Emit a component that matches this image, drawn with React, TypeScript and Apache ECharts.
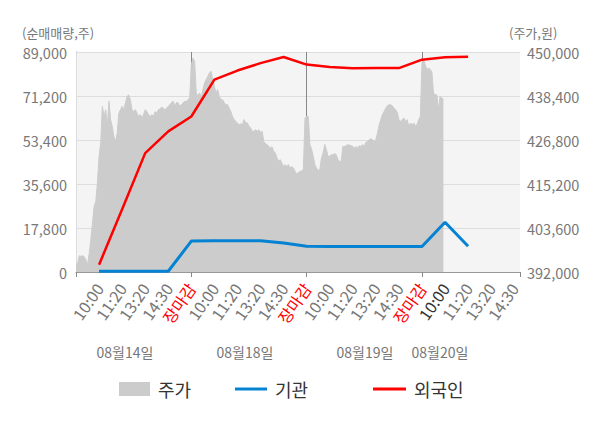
import React, { useEffect, useRef } from 'react';
import * as echarts from 'echarts';

// x tick labels (one per tick unit; 5 ticks per trading day)
const tickLabels = [
  '', '10:00', '11:20', '13:20', '14:30', '장마감',
  '10:00', '11:20', '13:20', '14:30', '장마감',
  '10:00', '11:20', '13:20', '14:30', '장마감',
  '10:00', '11:20', '13:20', '14:30',
];
const dayLabels = ['08월14일', '08월18일', '08월19일', '08월20일'];

// cumulative net buying (shares), at ticks 1..17
const foreignNet = [2950, 25400, 48100, 56900, 62900, 77800, 81500, 84500, 87000, 83900, 82900, 82400, 82500, 82500, 85900, 86900, 87100];
const institutionNet = [300, 300, 300, 300, 12500, 12650, 12650, 12650, 11700, 10400, 10300, 10300, 10300, 10300, 10300, 20100, 10400];

// intraday price (won), 14 samples per tick unit
const SAMPLES_PER_TICK = 14;
const priceDay1 = [393900, 394400, 396300, 396100, 396300, 396000, 395200, 393900, 396800, 400500, 404900, 409300, 410600, 415500, 422500, 426000, 435700, 433000, 434800, 430400, 437000, 432200, 430400, 427700, 426400, 428600, 433900, 434800, 435700, 434800, 436600, 438300, 438700, 437400, 434800, 434300, 434800, 433900, 433000, 433500, 432600, 433500, 434800, 434300, 433500, 433000, 433500, 433000, 434300, 433900, 434800, 435000, 435500, 435200, 434800, 435200, 435700, 436100, 436700, 437000, 435700, 436700, 436600, 435700, 436100, 436600, 437000, 437000, 437400, 437900];
const priceDay2 = [446600, 448400, 447500, 439200, 438300, 439200, 437900, 440100, 441800, 442700, 443600, 444500, 444900, 442700, 440900, 439200, 440100, 438300, 437400, 437400, 436600, 436100, 436100, 435200, 434300, 433000, 432200, 431700, 431300, 430800, 431100, 430800, 432200, 431300, 431300, 430400, 430000, 429100, 429100, 429500, 429100, 429500, 428800, 429100, 426400, 425800, 425600, 425100, 424700, 425000, 423800, 423400, 422100, 421200, 421600, 420700, 419800, 420300, 419800, 420300, 419400, 419800, 419400, 418500, 417800, 418300, 418500, 418700, 419000];
const priceDay3 = [432600, 433000, 433000, 425500, 424400, 422500, 420300, 419400, 418800, 419000, 422100, 423400, 425600, 424200, 422500, 422500, 422900, 422900, 423200, 422900, 421600, 421200, 421200, 425100, 425100, 425300, 425600, 425400, 425300, 425100, 424700, 425100, 424700, 425300, 425100, 425600, 425100, 426200, 426400, 426900, 427100, 426900, 426400, 426900, 428600, 430800, 432200, 433500, 434300, 435200, 435800, 436100, 436100, 435800, 435200, 434800, 434100, 432200, 431700, 432200, 432600, 431700, 432200, 430400, 431300, 430800, 431300, 430600, 430800, 432200, 433000];
const priceDay4 = [447000, 448000, 446600, 445300, 445800, 445300, 444900, 439200, 438700, 438700, 434800, 438300, 437900, 437600];

const FONT = '"Noto Sans CJK KR", "Noto Sans", sans-serif';
const GRAY = '#777777';

function fmt(v: number | string) {
  return String(v).replace(/\B(?=(\d{3})+(?!\d))/g, ',');
}

export default function App() {
  const ref = useRef<HTMLDivElement>(null);

  useEffect(() => {
    const chart = echarts.init(ref.current!, null, { renderer: 'svg' });
    const price = [...priceDay1, ...priceDay2, ...priceDay3, ...priceDay4];

    const legendText = { color: '#333333', fontSize: 18, fontFamily: FONT, padding: [0, 0, 0, 3] };

    const option: any = {
      animation: false,
      textStyle: { fontFamily: FONT },
      grid: {
        left: 76, right: 80, top: 52, bottom: 156,
        show: true, backgroundColor: '#f4f4f4', borderWidth: 0,
      },
      legend: [
        { left: 114, top: 375, itemWidth: 31, itemHeight: 14, selectedMode: false, data: [{ name: '주가', icon: 'rect' }], textStyle: legendText },
        { left: 230, top: 375, itemWidth: 32, itemHeight: 3, selectedMode: false, data: [{ name: '기관', icon: 'rect' }], textStyle: legendText },
        { left: 368, top: 375, itemWidth: 33, itemHeight: 3, selectedMode: false, data: [{ name: '외국인', icon: 'rect' }], textStyle: legendText },
      ],
      xAxis: [
        {
          type: 'value', min: 0, max: 19.25, interval: 1, position: 'bottom',
          axisLine: { show: true, lineStyle: { color: '#999999' } },
          axisTick: { show: false },
          splitLine: { show: false },
          axisLabel: {
            rotate: 55, margin: 13, fontSize: 16, fontFamily: FONT,
            showMaxLabel: false,
            formatter: (v: number) => (Number.isInteger(v) ? tickLabels[v] ?? '' : ''),
            color: (v: any) => {
              const n = Number(v);
              if (n > 0 && n % 5 === 0) return '#ff0000';
              if (n === 16) return '#333333';
              return GRAY;
            },
          },
        },
        {
          type: 'value', min: 0, max: 19.25, interval: 5, position: 'bottom',
          axisLine: { show: false },
          axisTick: { show: true, length: 5, lineStyle: { color: '#888888' } },
          axisLabel: { show: false },
          splitLine: { show: true, showMaxLine: false, lineStyle: { color: '#888888', width: 1 } },
        },
      ],
      yAxis: [
        {
          type: 'value', min: 0, max: 89000, interval: 17800, position: 'left',
          axisLine: { show: true, lineStyle: { color: '#888888' } },
          axisTick: { show: false },
          axisLabel: { color: GRAY, fontSize: 14.5, margin: 9, fontFamily: FONT, formatter: (v: number) => fmt(v) },
          splitLine: { show: true, lineStyle: { color: '#dddddd' } },
        },
        {
          type: 'value', min: 392000, max: 450000, alignTicks: true, position: 'right',
          axisLine: { show: true, lineStyle: { color: '#dddddd' } },
          axisTick: { show: false },
          axisLabel: { color: GRAY, fontSize: 14.5, margin: 7, fontFamily: FONT, formatter: (v: number) => fmt(v) },
          splitLine: { show: false },
        },
      ],
      graphic: [
        { type: 'text', x: 22, y: 32, style: { text: '(순매매량,주)', fill: GRAY, font: `13px ${FONT}`, align: 'left', verticalAlign: 'middle' } },
        { type: 'text', x: 509, y: 32, style: { text: '(주가,원)', fill: GRAY, font: `13px ${FONT}`, align: 'left', verticalAlign: 'middle' } },
        ...dayLabels.map((t, i) => ({
          type: 'text', x: [125, 245, 365, 440][i], y: 352,
          style: { text: t, fill: GRAY, font: `14px ${FONT}`, align: 'center', verticalAlign: 'middle' },
        })),
      ],
      series: [
        {
          name: '주가', type: 'line', xAxisIndex: 0, yAxisIndex: 1,
          data: price.map((v, i) => [i / SAMPLES_PER_TICK, v]),
          symbol: 'none',
          lineStyle: { color: '#cccccc', width: 1 },
          itemStyle: { color: '#cccccc' },
          areaStyle: { color: '#cccccc', opacity: 1, origin: 'start' },
          z: 1,
        },
        {
          name: '기관', type: 'line', xAxisIndex: 0, yAxisIndex: 0,
          data: institutionNet.map((v, i) => [i + 1, v]),
          symbol: 'none',
          lineStyle: { color: '#0582d2', width: 3 },
          itemStyle: { color: '#0582d2' },
          z: 3,
        },
        {
          name: '외국인', type: 'line', xAxisIndex: 0, yAxisIndex: 0,
          data: foreignNet.map((v, i) => [i + 1, v]),
          symbol: 'none',
          lineStyle: { color: '#ff0000', width: 2.5 },
          itemStyle: { color: '#ff0000' },
          z: 4,
        },
      ],
    };

    chart.setOption(option);
    return () => chart.dispose();
  }, []);

  return (
    <div
      ref={ref}
      style={{ position: 'fixed', left: 0, top: 0, width: 600, height: 428, background: '#ffffff' }}
    />
  );
}
